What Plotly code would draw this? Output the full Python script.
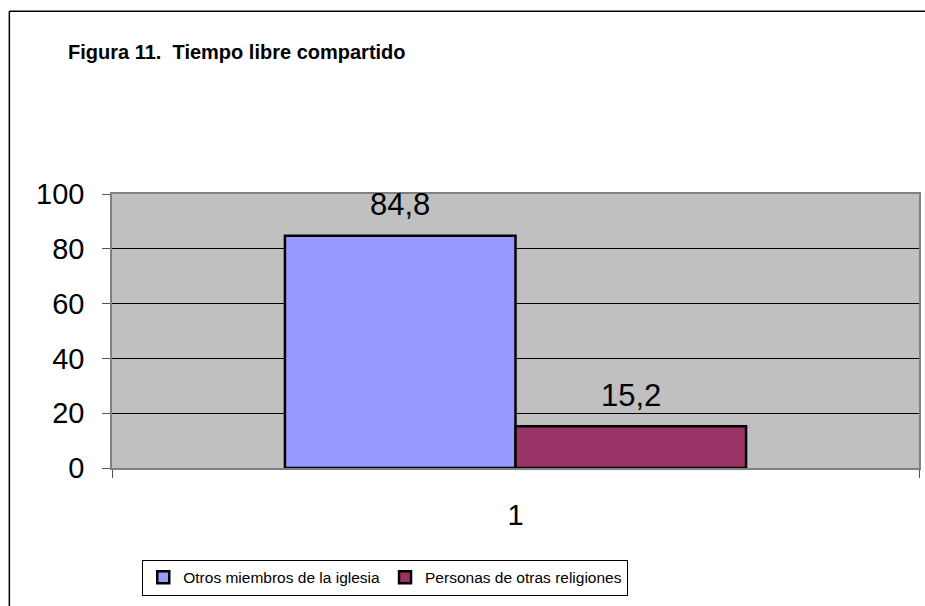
import plotly.graph_objects as go

categoria = ["1"]
series = ["Otros miembros de la iglesia", "Personas de otras religiones"]
valores = [84.8, 15.2]
colores = ["#9999FF", "#993366"]
titulo = "Figura 11.  Tiempo libre compartido"
y_ticks = [0, 20, 40, 60, 80, 100]

arial = "Liberation Sans, Arial, sans-serif"

bargap = 0.4286

fig = go.Figure()
for nombre, v, c in zip(series, valores, colores):
    fig.add_trace(go.Bar(
        x=categoria, y=[v], name=nombre,
        marker=dict(color=c, line=dict(color="black", width=2.5)),
    ))

# etiquetas de datos encima de cada barra
ancho = (1 - bargap) / len(series)
for i, v in enumerate(valores):
    centro = -(1 - bargap) / 2 + ancho * (i + 0.5)
    fig.add_annotation(
        x=centro, y=v, xref="x", yref="y", text=f"{v:.1f}".replace(".", ","),
        showarrow=False, yshift=31, font=dict(family=arial, size=31, color="black"),
    )

# borde exterior del gráfico (solo se ven el lado izquierdo y el superior)
borde = dict(color="black", width=1.5)
fig.add_shape(type="line", xref="paper", yref="paper",
              x0=-0.1272, x1=-0.1272, y0=-0.7, y1=1.667, line=borde)
fig.add_shape(type="line", xref="paper", yref="paper",
              x0=-0.1272, x1=1.2, y0=1.667, y1=1.667, line=borde)

fig.update_layout(
    width=925, height=606,
    margin=dict(l=112, r=6, t=194, b=138, autoexpand=False),
    paper_bgcolor="white", plot_bgcolor="#C0C0C0",
    barmode="group", bargap=bargap, bargroupgap=0,
    title=dict(text=f"<b>{titulo}</b>", x=0.256, y=0.914, xanchor="center",
               yanchor="middle", font=dict(family=arial, size=20, color="black")),
    legend=dict(orientation="h", x=0.3386, y=-0.4, xanchor="center", yanchor="middle",
                bordercolor="black", borderwidth=1, bgcolor="white",
                font=dict(family=arial, size=15.5, color="black"),
                itemwidth=30, tracegroupgap=0),
    showlegend=True,
)
fig.update_xaxes(
    showline=True, linecolor="#808080", linewidth=1.5, mirror=True,
    ticks="outside", tickson="boundaries", ticklen=8, tickcolor="#555",
    ticklabelstandoff=20, tickfont=dict(family=arial, size=29, color="black"),
    showgrid=False, automargin=False,
)
fig.update_yaxes(
    range=[0, 100], tickvals=y_ticks, showline=True, linecolor="#808080",
    linewidth=1.5, mirror=True, ticks="outside", ticklen=8, tickcolor="#555",
    ticklabelstandoff=12, tickfont=dict(family=arial, size=29, color="black"),
    showgrid=True, gridcolor="black", gridwidth=1, zeroline=False, automargin=False,
)

fig.write_html("out.html", config={"displayModeBar": False},
               post_script="document.body.style.margin='0';")
